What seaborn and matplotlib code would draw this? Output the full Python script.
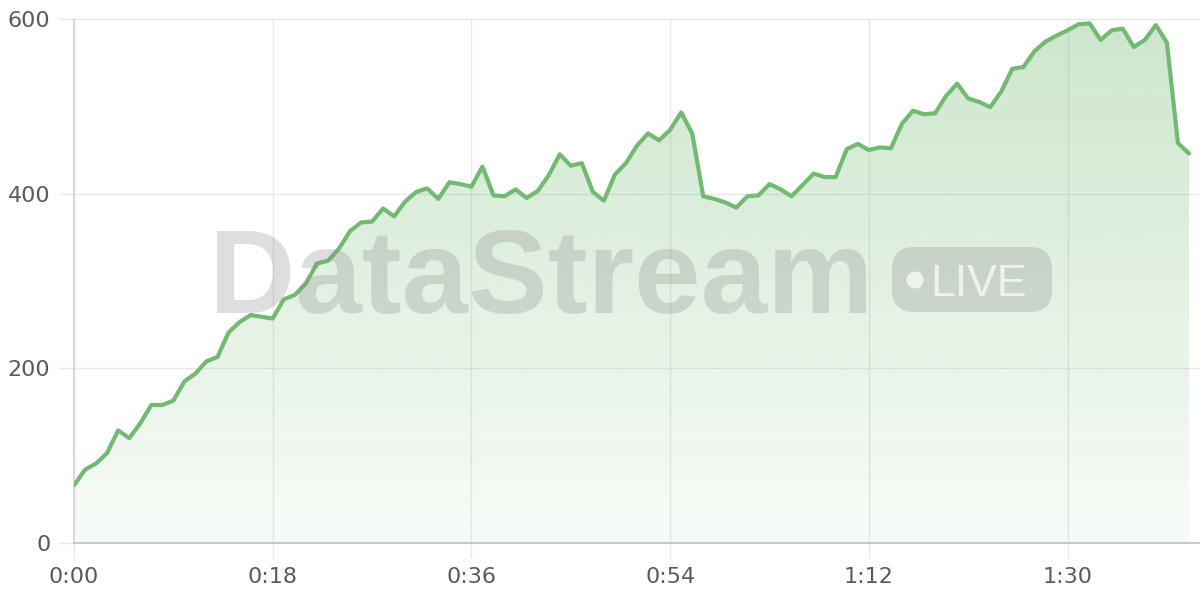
import numpy as np
import pandas as pd
import matplotlib
matplotlib.use("Agg")
import matplotlib.pyplot as plt
import seaborn as sns
from matplotlib.ticker import FuncFormatter, MultipleLocator
from matplotlib.patches import FancyBboxPatch, Circle
from matplotlib.transforms import IdentityTransform

# viewers per second
values = [66, 84, 91, 103, 129, 120, 137, 158, 158, 163,
          185, 194, 208, 213, 241, 253, 261, 259, 257, 279,
          284, 297, 320, 323, 337, 357, 367, 368, 383, 374,
          391, 402, 406, 394, 413, 411, 408, 431, 398, 397,
          405, 395, 403, 421, 445, 432, 435, 402, 392, 422,
          435, 455, 469, 461, 473, 493, 469, 397, 394, 390,
          384, 397, 398, 411, 405, 397, 410, 423, 419, 419,
          451, 457, 450, 453, 452, 480, 495, 491, 492, 512,
          526, 509, 505, 499, 517, 543, 545, 563, 574, 581,
          587, 594, 595, 576, 587, 589, 568, 576, 593, 573,
          458, 446]
seconds = list(range(len(values)))
y_ticks = [0, 200, 400, 600]

LINE = "#72b972"
df = pd.DataFrame({"t": seconds, "v": values})

sns.set_theme(style="white")
plt.rcParams["font.family"] = ["DejaVu Sans"]

fig = plt.figure(figsize=(12, 6), dpi=100)
ax = fig.add_axes([74 / 1200, 57 / 600, 1 - 74 / 1200, 524 / 600])
ax.set_xlim(0, 102)
ax.set_ylim(0, 600)

# gradient fill under the line
poly = ax.fill_between(df["t"], df["v"], 0, color="none", lw=0)
grad = np.zeros((256, 1, 4))
grad[:, 0, :3] = matplotlib.colors.to_rgb(LINE)
grad[:, 0, 3] = np.linspace(0.36, 0.05, 256)
img = ax.imshow(grad, aspect="auto", extent=[0, 102, 0, 600], origin="upper", zorder=1)
img.set_clip_path(poly.get_paths()[0], transform=ax.transData)

sns.lineplot(data=df, x="t", y="v", ax=ax, color=LINE, lw=3, zorder=4)

# watermark (pixel coords, origin bottom-left)
wm = "#8a8a8a"
px = IdentityTransform()
fig.text(209 / 1200, 1 - 313 / 600, "DataStream", fontsize=86, fontweight="bold",
         family="Liberation Sans", color=wm, alpha=0.28, ha="left", va="baseline", zorder=3)
fig.patches.append(FancyBboxPatch((892, 600 - 312), 160, 65,
                                  boxstyle="round,pad=0,rounding_size=22", transform=px,
                                  fc=wm, ec="none", alpha=0.28, zorder=3))
fig.patches.append(Circle((915, 600 - 280), 8.5, transform=px,
                          fc="white", ec="none", alpha=0.7, zorder=3))
fig.text(930 / 1200, 1 - 296 / 600, "LIVE", fontsize=32, family="Liberation Sans",
         color="white", alpha=0.7, ha="left", va="baseline", zorder=3)

ax.xaxis.set_major_locator(MultipleLocator(18))
ax.xaxis.set_major_formatter(FuncFormatter(lambda s, _: f"{int(s) // 60}:{int(s) % 60:02d}"))
ax.set_yticks(y_ticks)
ax.grid(True, color="#e8e8e8", lw=1)
ax.set_axisbelow(True)
ax.set_xlabel("")
ax.set_ylabel("")
for side in ["top", "right"]:
    ax.spines[side].set_visible(False)
ax.spines["left"].set_color("#d4d4d4")
ax.spines["bottom"].set_color("#c8c8c8")
ax.spines["left"].set_linewidth(1.2)
ax.spines["bottom"].set_linewidth(1.5)
ax.tick_params(axis="both", length=11, width=1, color="#e8e8e8", labelsize=16,
               labelcolor="#5a5a5a", pad=6, left=True, bottom=True)
ax.set_facecolor("none")

fig.savefig("out.png", dpi=100)
